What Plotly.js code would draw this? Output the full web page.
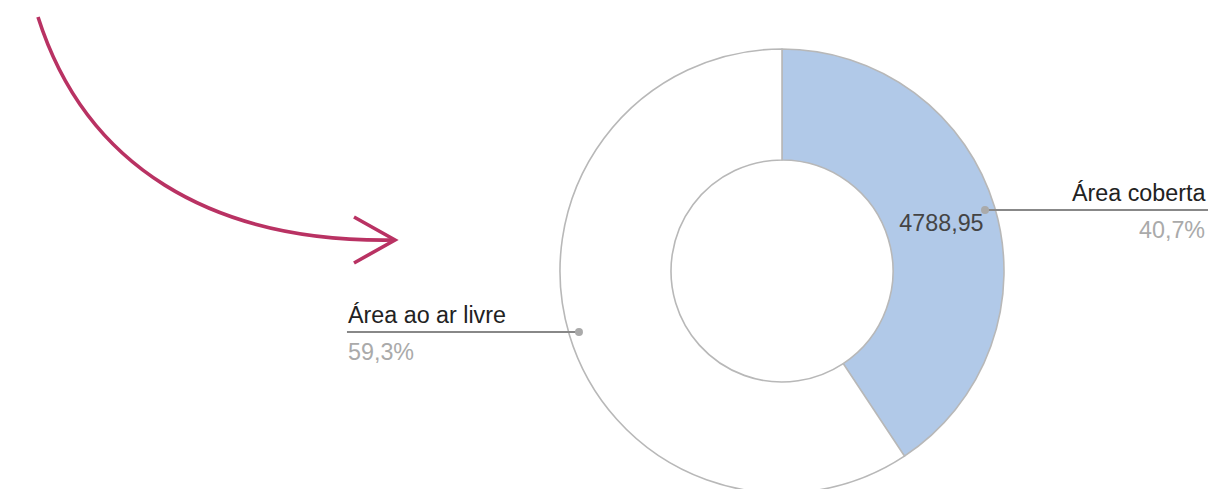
<!DOCTYPE html>
<html>
<head>
<meta charset="utf-8">
<script src="https://cdn.plot.ly/plotly-3.0.1.min.js"></script>
<style>
html, body { margin:0; padding:0; width:1208px; height:489px; overflow:hidden; background:#fff; }
#chart { width:1208px; height:500px; }
</style>
</head>
<body>
<div id="chart"></div>
<script>
// ---- data ----
const categories = ["Área coberta", "Área ao ar livre"];
const values = [4788.95, 6977];
const sliceColors = ["#b1c9e8", "#ffffff"];
const showValue = [true, false];

// ---- geometry (pixels) ----
const W = 1208, H = 500;
const cx = 782, cy = 271, R = 222;
const FONT = "Liberation Sans, Arial, Helvetica, sans-serif";
const FS = 23.3;

const px = x => x / W;
const py = y => 1 - y / H;
const fmt = (v, d) => v.toFixed(d).replace('.', ',');

const total = values.reduce((a, b) => a + b, 0);

const trace = {
  type: 'pie',
  labels: categories,
  values: values,
  sort: false,
  direction: 'clockwise',
  rotation: 0,
  hole: 0.5,
  domain: { x: [px(cx - R), px(cx + R)], y: [py(cy + R), py(cy - R)] },
  marker: { colors: sliceColors, line: { color: '#b8b8b8', width: 1.6 } },
  text: values.map((v, i) => showValue[i] ? fmt(v, 2) : ''),
  textinfo: 'text',
  textposition: 'inside',
  insidetextorientation: 'horizontal',
  insidetextfont: { family: FONT, size: FS, color: '#444444' },
  hoverinfo: 'none',
  showlegend: false
};

const shapes = [];
const annotations = [];
let cum = 0;
const dotR = 0.955 * R;
const lineLen = 232;
values.forEach((v, i) => {
  const ang = (cum + v / 2) / total * 2 * Math.PI;
  cum += v;
  const dx = cx + dotR * Math.sin(ang);
  const dy = cy - dotR * Math.cos(ang);
  const right = Math.sin(ang) >= 0;
  const ex = right ? dx + lineLen : dx - lineLen;
  shapes.push({ type: 'line', xref: 'paper', yref: 'paper',
    x0: px(dx), y0: py(dy), x1: px(ex), y1: py(dy),
    line: { color: '#888888', width: 2 } });
  shapes.push({ type: 'circle', xref: 'paper', yref: 'paper',
    x0: px(dx - 4), x1: px(dx + 4), y0: py(dy + 4), y1: py(dy - 4),
    fillcolor: '#aaaaaa', line: { width: 0 } });
  const anchor = right ? 'right' : 'left';
  const tx = right ? Math.min(ex, W - 1) : ex - 1;
  annotations.push({ xref: 'paper', yref: 'paper', x: px(tx), y: py(dy - 2),
    xanchor: anchor, yanchor: 'bottom', showarrow: false,
    text: categories[i], font: { family: FONT, size: FS, color: '#222222' } });
  annotations.push({ xref: 'paper', yref: 'paper', x: px(tx), y: py(dy + 5),
    xanchor: anchor, yanchor: 'top', showarrow: false,
    text: fmt(v / total * 100, 1) + '%', font: { family: FONT, size: FS, color: '#aaaaaa' } });
});

// decorative arrow (pixels -> paper)
const P = (x, y) => px(x).toFixed(5) + ',' + py(y).toFixed(5);
shapes.push({ type: 'path', xref: 'paper', yref: 'paper',
  path: 'M' + P(38, 17) + ' C' + P(85, 165) + ' ' + P(210, 243) + ' ' + P(395, 240),
  line: { color: '#b93263', width: 3.6 } });
shapes.push({ type: 'path', xref: 'paper', yref: 'paper',
  path: 'M' + P(354, 217) + ' L' + P(395, 240) + ' L' + P(354, 263),
  line: { color: '#b93263', width: 3.6 } });

const layout = {
  width: W, height: H,
  margin: { l: 0, r: 0, t: 0, b: 0 },
  paper_bgcolor: '#ffffff',
  plot_bgcolor: '#ffffff',
  showlegend: false,
  shapes: shapes,
  annotations: annotations,
  font: { family: FONT }
};

Plotly.newPlot('chart', [trace], layout, { staticPlot: true, displayModeBar: false });
</script>
</body>
</html>
